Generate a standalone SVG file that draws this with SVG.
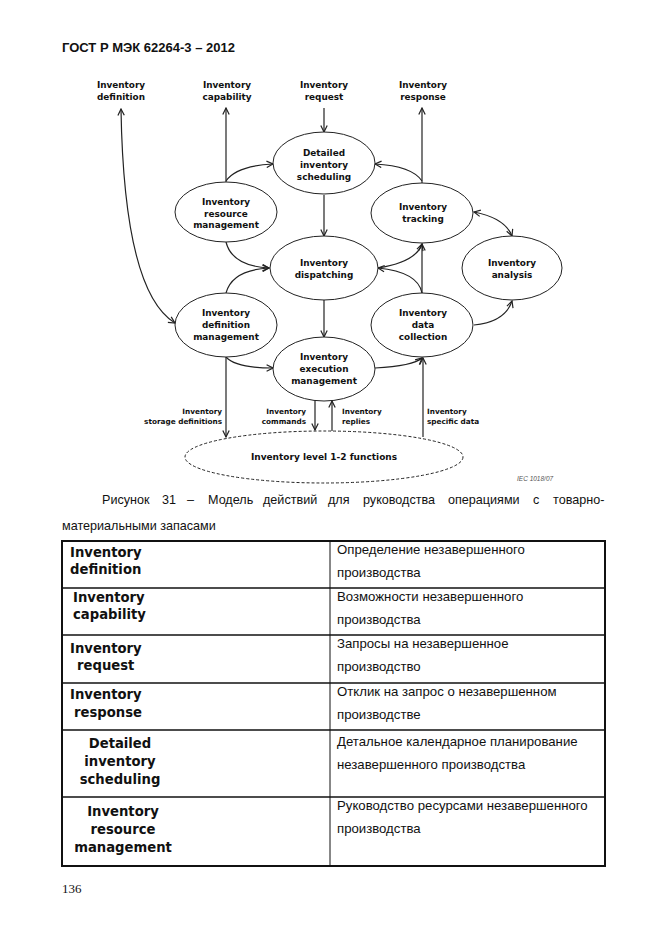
<svg xmlns="http://www.w3.org/2000/svg" width="662" height="935" viewBox="0 0 662 935">
<style>
.lbl{font-family:"DejaVu Sans",Verdana,sans-serif;font-weight:bold;font-size:8.9px;fill:#111;text-anchor:middle}
.sm{font-family:"DejaVu Sans",Verdana,sans-serif;font-weight:bold;font-size:7.3px;fill:#111}
.node{fill:#fff;stroke:#222;stroke-width:1}
.con{fill:none;stroke:#222;stroke-width:1.2}
.ru{font-family:"Liberation Sans",Arial,sans-serif;font-size:13.2px;fill:#111}
.cap{font-family:"Liberation Sans",Arial,sans-serif;font-size:12.6px;fill:#111}
.tl{font-family:"DejaVu Sans",Verdana,sans-serif;font-weight:bold;font-size:13.2px;fill:#111}
</style>
<defs>
<marker id="arr" viewBox="0 0 10 10" refX="9" refY="5" markerWidth="8" markerHeight="8" markerUnits="userSpaceOnUse" orient="auto-start-reverse">
<path d="M1,1 L9,5 L1,9" fill="none" stroke="#222" stroke-width="1.5"/>
</marker>
</defs>
<rect width="662" height="935" fill="#fff"/>
<text x="62" y="52" font-family="Liberation Sans,Arial,sans-serif" font-weight="bold" font-size="13px" fill="#111">ГОСТ Р МЭК 62264-3 – 2012</text>

<g id="labels-top">
<text class="lbl" x="121" y="88">Inventory</text><text class="lbl" x="121" y="99.5">definition</text>
<text class="lbl" x="227" y="88">Inventory</text><text class="lbl" x="227" y="99.5">capability</text>
<text class="lbl" x="324" y="88">Inventory</text><text class="lbl" x="324" y="99.5">request</text>
<text class="lbl" x="423" y="88">Inventory</text><text class="lbl" x="423" y="99.5">response</text>
</g>

<g id="connectors">
<path class="con" d="M324,108 L324,132" marker-end="url(#arr)"/>
<path class="con" d="M226,182 L226,108" marker-end="url(#arr)"/>
<path class="con" d="M422,183 L422,108" marker-end="url(#arr)"/>
<path class="con" d="M121,109 Q124,292 175,323" marker-start="url(#arr)" marker-end="url(#arr)"/>
<path class="con" d="M226,181 Q236,166 273,164" marker-end="url(#arr)"/>
<path class="con" d="M422,181 Q412,166 375,164" marker-end="url(#arr)"/>
<path class="con" d="M324,195 L324,236" marker-end="url(#arr)"/>
<path class="con" d="M226,242 Q232,266 269,268" marker-end="url(#arr)"/>
<path class="con" d="M226,293 Q232,270 269,268" marker-end="url(#arr)"/>
<path class="con" d="M324,300 L324,337" marker-end="url(#arr)"/>
<path class="con" d="M422,293 Q418,272 378,268" marker-end="url(#arr)"/>
<path class="con" d="M378,268 Q416,262 422,244" marker-end="url(#arr)"/>
<path class="con" d="M422,293 L422,244" marker-end="url(#arr)"/>
<path class="con" d="M474,212 Q505,218 512,236" marker-start="url(#arr)" marker-end="url(#arr)"/>
<path class="con" d="M474,325 Q505,322 512,301" marker-end="url(#arr)"/>
<path class="con" d="M226,357 Q236,368 273,368" marker-end="url(#arr)"/>
<path class="con" d="M375,368 Q413,366 422,358" marker-end="url(#arr)"/>
<path class="con" d="M226,357 L226,437" marker-end="url(#arr)"/>
<path class="con" d="M315,400 L315,430" marker-end="url(#arr)"/>
<path class="con" d="M332,431 L332,401" marker-end="url(#arr)"/>
<path class="con" d="M423,437 L423,358" marker-end="url(#arr)"/>
<text class="sm" x="222" y="414" text-anchor="end">Inventory</text>
<text class="sm" x="222" y="424" text-anchor="end">storage definitions</text>
<text class="sm" x="306" y="414" text-anchor="end">Inventory</text>
<text class="sm" x="306" y="424" text-anchor="end">commands</text>
<text class="sm" x="342" y="414">Inventory</text>
<text class="sm" x="342" y="424">replies</text>
<text class="sm" x="427" y="414">Inventory</text>
<text class="sm" x="427" y="424">specific data</text>
</g>

<g id="n-scheduling"><ellipse class="node" cx="324" cy="163" rx="51" ry="31"/>
<text class="lbl" x="324" y="156">Detailed</text><text class="lbl" x="324" y="168">inventory</text><text class="lbl" x="324" y="180">scheduling</text></g>
<g id="n-resource"><ellipse class="node" cx="226" cy="212" rx="51" ry="30"/>
<text class="lbl" x="226" y="205">Inventory</text><text class="lbl" x="226" y="216.5">resource</text><text class="lbl" x="226" y="228">management</text></g>
<g id="n-tracking"><ellipse class="node" cx="422" cy="213" rx="51" ry="30"/>
<text class="lbl" x="423" y="210">Inventory</text><text class="lbl" x="423" y="221.5">tracking</text></g>
<g id="n-dispatching"><ellipse class="node" cx="324" cy="268" rx="54" ry="32"/>
<text class="lbl" x="324" y="266">Inventory</text><text class="lbl" x="324" y="278">dispatching</text></g>
<g id="n-analysis"><ellipse class="node" cx="512" cy="268" rx="50" ry="32"/>
<text class="lbl" x="512" y="266">Inventory</text><text class="lbl" x="512" y="278">analysis</text></g>
<g id="n-defmgmt"><ellipse class="node" cx="226" cy="325" rx="51" ry="32"/>
<text class="lbl" x="226" y="316">Inventory</text><text class="lbl" x="226" y="328">definition</text><text class="lbl" x="226" y="340">management</text></g>
<g id="n-datacoll"><ellipse class="node" cx="422" cy="325" rx="51" ry="32"/>
<text class="lbl" x="423" y="316">Inventory</text><text class="lbl" x="423" y="328">data</text><text class="lbl" x="423" y="340">collection</text></g>
<g id="n-execution"><ellipse class="node" cx="324" cy="369" rx="51" ry="32"/>
<text class="lbl" x="324" y="360">Inventory</text><text class="lbl" x="324" y="372">execution</text><text class="lbl" x="324" y="384">management</text></g>
<g id="n-level12"><ellipse cx="324" cy="457" rx="139" ry="26" fill="#fff" stroke="#222" stroke-width="1" stroke-dasharray="3,2"/>
<text class="lbl" x="324" y="460" style="font-size:9px">Inventory level 1-2 functions</text></g>

<text x="517" y="481" font-family="Liberation Sans,Arial,sans-serif" font-style="italic" font-size="6.5px" fill="#555">IEC   1018/07</text>

<text class="cap" y="504"><tspan x="102">Рисунок</tspan><tspan x="162">31</tspan><tspan x="187">–</tspan><tspan x="208">Модель</tspan><tspan x="263">действий</tspan><tspan x="328">для</tspan><tspan x="363">руководства</tspan><tspan x="448">операциями</tspan><tspan x="533">с</tspan><tspan x="553">товарно-</tspan></text>
<text class="cap" x="62" y="530">материальными запасами</text>

<g id="table">
<rect x="62" y="541" width="543" height="325" fill="none" stroke="#111" stroke-width="2"/>
<line x1="330" y1="541" x2="330" y2="866" stroke="#111" stroke-width="1"/>
<g stroke="#111" stroke-width="1.6">
<line x1="62" y1="588" x2="605" y2="588"/>
<line x1="62" y1="635" x2="605" y2="635"/>
<line x1="62" y1="683" x2="605" y2="683"/>
<line x1="62" y1="730" x2="605" y2="730"/>
<line x1="62" y1="797" x2="605" y2="797"/>
</g>
<text class="tl" x="70" y="557">Inventory</text><text class="tl" x="70" y="574">definition</text>
<text class="tl" x="73" y="602">Inventory</text><text class="tl" x="73" y="619">capability</text>
<text class="tl" x="70" y="653">Inventory</text><text class="tl" x="77" y="670">request</text>
<text class="tl" x="70" y="699">Inventory</text><text class="tl" x="74" y="717">response</text>
<text class="tl" x="120" y="748" text-anchor="middle">Detailed</text><text class="tl" x="120" y="766" text-anchor="middle">inventory</text><text class="tl" x="120" y="784" text-anchor="middle">scheduling</text>
<text class="tl" x="123" y="816" text-anchor="middle">Inventory</text><text class="tl" x="123" y="834" text-anchor="middle">resource</text><text class="tl" x="123" y="852" text-anchor="middle">management</text>
<text class="ru" x="337" y="554">Определение незавершенного</text><text class="ru" x="337" y="577">производства</text>
<text class="ru" x="337" y="601">Возможности незавершенного</text><text class="ru" x="337" y="624">производства</text>
<text class="ru" x="337" y="648">Запросы на незавершенное</text><text class="ru" x="337" y="671">производство</text>
<text class="ru" x="337" y="696">Отклик на запрос о незавершенном</text><text class="ru" x="337" y="719">производстве</text>
<text class="ru" x="337" y="746">Детальное календарное планирование</text><text class="ru" x="337" y="769">незавершенного производства</text>
<text class="ru" x="337" y="810">Руководство ресурсами незавершенного</text><text class="ru" x="337" y="833">производства</text>
</g>
<text x="62" y="893" font-family="Liberation Serif,Times New Roman,serif" font-size="13px" fill="#111">136</text>
</svg>
